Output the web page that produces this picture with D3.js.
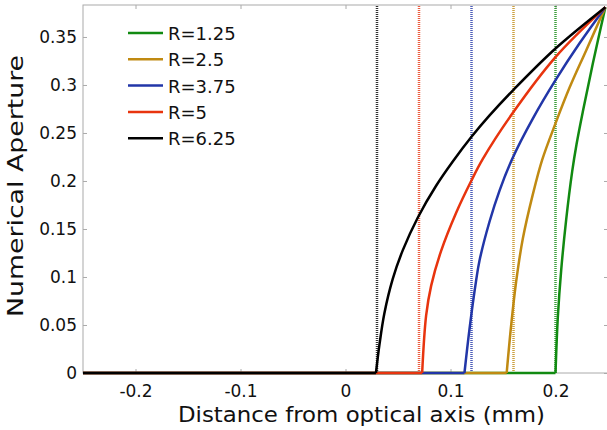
<!DOCTYPE html>
<html>
<head>
<meta charset="utf-8">
<script src="https://cdn.jsdelivr.net/npm/d3@7"></script>
<style>
  body { margin: 0; background: #fff; }
  text { font-family: "DejaVu Sans", sans-serif; fill: #111; }
</style>
</head>
<body>
<script>
// data

const labels = ["R=1.25", "R=2.5", "R=3.75", "R=5", "R=6.25"];
const colors = ["#118a11", "#c08a12", "#2236a8", "#e8340e", "#000000"];
const cutoffs = [0.2, 0.16, 0.12, 0.07, 0.03];

const xGreen = [-0.25, 0.2, 0.2022, 0.2054, 0.2102, 0.2159, 0.22, 0.226, 0.2355, 0.2475];
const yGreen = [0, 0, 0.058, 0.107, 0.16, 0.21, 0.238, 0.272, 0.322, 0.381];

const xGold = [-0.25, 0.1535, 0.1578, 0.1625, 0.1689, 0.1784, 0.1873, 0.2, 0.2133, 0.2292, 0.2475];
const yGold = [0, 0, 0.05, 0.095, 0.14, 0.186, 0.222, 0.26, 0.297, 0.336, 0.381];

const xBlue = [-0.25, 0.1133, 0.118, 0.1245, 0.1276, 0.137, 0.1467, 0.1594, 0.1784, 0.2, 0.2229, 0.2475];
const yBlue = [0, 0, 0.045, 0.097, 0.117, 0.157, 0.19, 0.2245, 0.265, 0.305, 0.3434, 0.381];

const xRed = [-0.25, 0.073, 0.0768, 0.0816, 0.091, 0.1054, 0.1197, 0.1308, 0.1594, 0.2, 0.2475];
const yRed = [0, 0, 0.06, 0.091, 0.127, 0.167, 0.2, 0.223, 0.271, 0.329, 0.381];

const xBlack = [-0.25, 0.029, 0.0324, 0.037, 0.045, 0.0546, 0.0689, 0.0863, 0.102, 0.12, 0.137, 0.16, 0.2, 0.2475];
const yBlack = [0, 0, 0.03, 0.062, 0.098, 0.128, 0.162, 0.195, 0.22, 0.246, 0.268, 0.295, 0.338, 0.381];

const xTicks = [-0.2, -0.1, 0, 0.1, 0.2];
const yTicks = [0, 0.05, 0.1, 0.15, 0.2, 0.25, 0.3, 0.35];

const series = [[xGreen, yGreen], [xGold, yGold], [xBlue, yBlue], [xRed, yRed], [xBlack, yBlack]];

// graph

const w = 607;
const h = 430;
const m = { top: 5, right: -1, bottom: 57, left: 83 };

const svg = d3.select("body").append("svg").
attr("width", w).
attr("height", h);

const x = d3.scaleLinear().
domain([-0.25, 0.25]).
range([m.left, w - m.right]);
const y = d3.scaleLinear().
domain([0, 0.3833]).
range([h - m.bottom, m.top]);

const fmt = d => d3.format("~g")(d).replace("\u2212", "-");

// box and ticks

svg.append("rect").
attr("x", x(-0.25)).
attr("y", y(0.3833)).
attr("width", x(0.25) - x(-0.25)).
attr("height", y(0) - y(0.3833)).
attr("fill", "none").
attr("stroke", "#aaa");

const axisStyle = g => {
  g.select(".domain").remove();
  g.selectAll(".tick line").attr("stroke", "#aaa");
  g.selectAll(".tick text").style("font-size", "17px").attr("fill", "#111");
};

svg.append("g").
attr("transform", "translate(0," + y(0) + ")").
call(d3.axisBottom(x).tickValues(xTicks).tickSizeInner(-4).tickSizeOuter(0).tickPadding(12).tickFormat(fmt)).
call(axisStyle);

svg.append("g").
attr("transform", "translate(0," + y(0.3833) + ")").
call(d3.axisTop(x).tickValues(xTicks).tickSizeInner(-4).tickSizeOuter(0).tickFormat("")).
call(axisStyle);

svg.append("g").
attr("transform", "translate(" + x(-0.25) + ",0)").
call(d3.axisLeft(y).tickValues(yTicks).tickSizeInner(-4).tickSizeOuter(0).tickPadding(6).tickFormat(fmt)).
call(axisStyle);

svg.append("g").
attr("transform", "translate(" + x(0.25) + ",0)").
call(d3.axisRight(y).tickValues(yTicks).tickSizeInner(-4).tickSizeOuter(0).tickFormat("")).
call(axisStyle);

// cutoff lines

svg.selectAll(".cutoff").
data(cutoffs).
enter().
append("line").
attr("class", "cutoff").
attr("x1", d => x(d)).
attr("x2", d => x(d)).
attr("y1", y(0)).
attr("y2", y(0.3833)).
attr("stroke", (d, i) => colors[i]).
attr("stroke-width", 2.5).
attr("stroke-dasharray", "1,1").
attr("opacity", 0.8);

// curves: flat part straight, rising part smooth

const flat = d3.line().
x(d => x(d[0])).
y(d => y(d[1]));
const rise = d3.line().
x(d => x(d[0])).
y(d => y(d[1])).
curve(d3.curveCatmullRom.alpha(0.5));

series.forEach((s, k) => {
  const pts = s[0].map((v, i) => [v, s[1][i]]);
  svg.append("path").
  attr("d", flat(pts.slice(0, 2))).
  attr("fill", "none").
  attr("stroke", colors[k]).
  attr("stroke-width", 2.5);
  svg.append("path").
  attr("d", rise(pts.slice(1))).
  attr("fill", "none").
  attr("stroke", colors[k]).
  attr("stroke-width", 2.5).
  attr("stroke-linejoin", "round");
});

// legend

const legend = svg.append("g").
attr("transform", "translate(128,33)");

labels.forEach((lab, i) => {
  legend.append("line").
  attr("x1", 0).
  attr("x2", 35).
  attr("y1", i * 26.3).
  attr("y2", i * 26.3).
  attr("stroke", colors[i]).
  attr("stroke-width", 2.5);
  legend.append("text").
  attr("x", 40).
  attr("y", i * 26.3 + 7).
  style("font-size", "18px").
  text(lab);
});

// axis labels

svg.append("text").
attr("x", 178).
attr("y", 422).
attr("textLength", 367).
attr("lengthAdjust", "spacingAndGlyphs").
style("font-size", "21px").
text("Distance from optical axis (mm)");

svg.append("text").
attr("transform", "translate(23,317) rotate(-90)").
attr("textLength", 262).
attr("lengthAdjust", "spacingAndGlyphs").
style("font-size", "22px").
text("Numerical Aperture");
</script>
</body>
</html>
